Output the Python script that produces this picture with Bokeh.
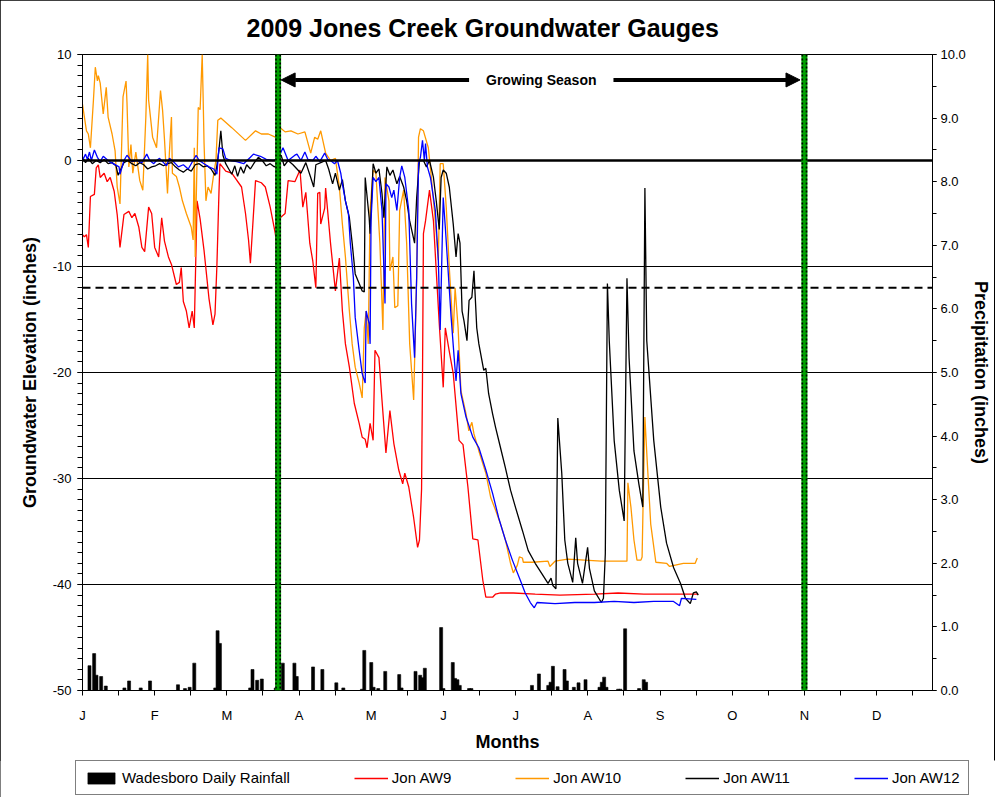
from bokeh.plotting import figure
from bokeh.layouts import column
from bokeh.models import (Range1d, LinearAxis, FixedTicker, PrintfTickFormatter, Span, Label,
                          Arrow, NormalHead, Legend, LegendItem, ColumnDataSource)
from bokeh.embed import file_html
from bokeh.resources import INLINE

FONT = "Liberation Sans"

# ---------------- data ----------------
month_labels = ["J", "F", "M", "A", "M", "J", "J", "A", "S", "O", "N", "D"]
month_ticks = [0, 31, 62, 93, 124, 155, 186, 217, 248, 279, 310, 341]
half_month_ticks = [15.5, 46.5, 77.5, 108.5, 139.5, 170.5, 201.5, 232.5, 263.5, 294.5, 325.5, 356.5]

growing_season = [84, 310]        # day of year, start / end
threshold_level = -12             # inches
arrow_level = 7.6                 # inches (left axis) for the growing-season arrow

# (day of year, groundwater elevation in inches)
aw9 = [(0.0, -7.0), (0.8, -7.2), (1.7, -7.0), (2.5, -8.2), (3.4, -3.4), (5.1, -3.2), (5.9, -0.7),
       (6.8, -0.4), (7.6, -1.6), (9.3, -1.2), (10.6, -2.0), (11.9, -1.6), (13.6, -2.9), (14.9, -5.1),
       (16.1, -8.2), (17.8, -5.1), (19.9, -4.8), (21.2, -5.4), (22.5, -5.0), (24.2, -6.3), (25.5, -8.2),
       (26.7, -8.6), (28.4, -4.4), (29.7, -5.0), (31.0, -8.2), (32.7, -9.1), (34.0, -5.4), (35.2, -7.6),
       (36.9, -9.1), (38.2, -9.8), (40.3, -11.7), (41.6, -11.5), (42.4, -10.1), (43.3, -13.3),
       (44.6, -14.2), (45.8, -15.8), (47.1, -14.2), (48.0, -15.8), (49.2, -3.8), (50.5, -5.5),
       (52.2, -8.5), (54.3, -13.0), (56.0, -15.5), (56.9, -14.5), (57.7, -10.0), (58.6, -3.0),
       (59.0, -0.3), (61.5, -1.0), (64.1, -1.2), (68.3, -2.5), (70.0, -5.0), (71.3, -7.5), (72.1, -9.7),
       (74.3, -1.9), (76.8, -2.1), (78.5, -2.5), (80.6, -4.4), (82.8, -6.9), (83.6, -8.2), (84.9, -5.4),
       (87.0, -5.0), (88.3, -1.9), (91.2, -2.0), (93.4, -0.9), (94.6, -4.4), (95.9, -3.0), (97.6, -7.8),
       (98.9, -9.5), (100.2, -12.0), (101.0, -3.1), (101.9, -3.0), (102.3, -6.0), (104.0, -4.5),
       (104.4, -2.6), (106.5, -7.8), (108.6, -12.3), (110.3, -9.2), (111.6, -14.2), (112.9, -17.3),
       (114.6, -19.5), (116.7, -22.9), (118.8, -24.8), (120.1, -26.1), (121.4, -26.3), (122.2, -27.1),
       (123.5, -24.8), (124.8, -26.4), (125.6, -17.9), (127.3, -18.6), (128.6, -22.6), (130.3, -27.6),
       (132.0, -23.6), (133.7, -26.7), (135.8, -29.2), (137.5, -30.5), (138.4, -29.5), (140.1, -30.8),
       (142.2, -33.7), (143.9, -36.5), (144.7, -35.8), (145.6, -31.0), (146.0, -20.5), (146.4, -6.9),
       (147.3, -5.7), (149.0, -2.8), (150.7, -5.7), (151.9, -10.4), (153.2, -15.4), (154.9, -21.4),
       (155.8, -15.8), (157.5, -18.0), (159.2, -20.1), (161.7, -26.4), (163.4, -26.8), (165.5, -30.8),
       (167.6, -35.7), (169.8, -35.8), (171.9, -39.6), (173.2, -41.2), (176.1, -41.2), (177.4, -40.9),
       (179.5, -40.8), (185.0, -40.8), (194.4, -40.9), (205.0, -41.0), (219.8, -40.9), (230.0, -40.8),
       (241.1, -40.9), (255.0, -40.9), (264.4, -40.9)]

aw10 = [(0.0, 5.3), (1.7, 2.8), (2.5, 2.5), (3.4, 1.2), (4.7, 5.7), (5.5, 8.8), (6.4, 7.5), (6.8, 8.0),
        (7.6, 7.3), (8.9, 4.4), (10.2, 6.9), (11.0, 4.1), (12.7, 2.5), (14.0, 0.9), (14.9, -2.5),
        (16.1, -4.1), (17.4, 6.0), (18.7, 7.5), (19.1, 5.5), (19.9, -0.6), (20.8, 1.5), (21.6, -1.2),
        (22.9, 0.8), (24.6, -1.9), (25.9, -2.8), (27.2, 4.1), (28.0, 10.0), (28.4, 5.7), (30.1, 2.2),
        (31.8, 1.2), (33.5, 6.6), (34.4, 4.7), (35.2, 2.0), (36.5, -3.1), (37.3, 0.7), (38.2, 4.1),
        (38.6, -1.2), (40.3, -1.5), (41.6, -2.5), (42.9, -3.8), (44.6, -5.0), (46.7, -6.3), (47.5, -7.5),
        (48.0, 1.2), (48.4, -9.1), (48.8, -4.0), (49.7, 5.0), (50.5, 4.8), (51.4, 10.0), (51.8, 6.0),
        (52.2, 1.6), (53.0, -3.8), (53.9, -2.5), (55.2, -3.1), (56.4, -1.2), (57.3, 0.0), (58.1, 3.8),
        (59.4, 4.0), (64.1, 3.1), (70.0, 1.9), (74.3, 2.8), (76.8, 2.5), (79.8, 2.5), (82.8, 2.2),
        (84.9, 3.1), (87.0, 2.7), (89.5, 2.8), (92.5, 2.5), (95.5, 2.7), (98.0, 0.7), (99.7, 2.2),
        (101.0, 2.0), (102.3, 2.8), (104.4, 0.7), (106.5, 0.0), (108.6, 0.2), (110.3, -2.5),
        (111.6, -6.0), (112.9, -9.1), (114.6, -14.2), (115.8, -17.3), (117.1, -19.5), (118.8, -21.0),
        (120.1, -22.4), (121.0, -15.8), (121.8, -14.2), (122.7, -17.3), (123.5, -4.7), (124.8, -0.9),
        (126.0, -1.2), (127.7, -7.8), (129.0, -16.0), (129.9, -1.6), (131.6, -3.8), (132.0, -10.4),
        (133.3, -9.1), (134.1, -13.9), (135.4, -13.7), (136.2, -4.7), (137.9, -2.8), (139.2, -7.8),
        (140.5, -17.3), (142.2, -22.6), (143.5, -11.0), (144.3, 2.2), (145.1, 3.0), (146.4, 2.8),
        (148.5, 1.2), (149.8, -1.6), (151.1, -4.7), (152.8, -9.4), (153.6, -0.3), (154.9, -0.3),
        (156.2, -4.4), (157.5, -10.1), (159.2, -16.3), (160.0, -12.0), (161.3, -15.8), (162.5, -21.7),
        (164.7, -23.9), (165.9, -25.5), (167.2, -24.7), (168.1, -25.8), (170.2, -27.4), (173.2, -29.5),
        (175.3, -31.8), (177.4, -33.0), (179.5, -34.3), (181.6, -35.8), (183.8, -38.0), (185.0, -38.9),
        (186.7, -38.2), (187.6, -37.4), (188.9, -37.5), (189.3, -37.9), (193.1, -37.9), (199.9, -37.8),
        (200.7, -38.3), (202.9, -37.8), (208.4, -37.6), (222.8, -37.8), (233.8, -37.8), (234.2, -30.4),
        (235.5, -32.7), (236.8, -35.8), (238.1, -37.7), (239.8, -37.7), (240.3, -37.4), (240.7, -32.7),
        (241.5, -24.2), (242.4, -28.0), (244.0, -34.3), (246.2, -37.9), (250.8, -38.0), (252.1, -38.3),
        (258.0, -38.0), (263.1, -38.0), (264.0, -37.5)]

aw11 = [(0.0, 0.3), (1.3, -0.2), (2.5, 0.2), (4.2, -0.3), (5.9, 0.0), (7.6, -0.2), (9.3, 0.1),
        (11.0, -0.3), (12.7, -0.2), (14.4, -0.5), (15.3, -1.4), (16.1, -1.0), (17.8, -0.2), (19.5, 0.0),
        (21.2, -0.3), (22.9, -0.5), (24.6, -0.2), (26.3, -0.4), (28.0, -0.8), (29.7, -0.6), (31.4, -0.5),
        (33.1, -0.3), (34.8, -0.5), (36.5, -0.3), (38.2, -0.2), (39.9, -0.6), (41.6, -0.9), (43.3, -1.1),
        (45.0, -0.8), (46.7, -1.0), (48.4, -0.4), (50.1, -0.3), (51.8, -0.6), (53.5, -0.5), (55.2, -0.8),
        (56.9, -1.4), (57.7, -0.5), (58.6, 1.0), (59.4, 2.8), (60.3, 0.5), (61.5, -0.3), (62.8, -0.8),
        (64.1, -1.3), (65.4, -0.5), (66.6, -1.5), (67.9, -0.6), (69.2, -1.2), (70.5, -0.4), (72.1, -0.8),
        (73.8, -0.2), (75.5, 0.3), (77.2, 0.0), (78.9, -0.5), (80.6, -0.3), (82.3, -0.6), (84.0, -0.4),
        (85.3, 0.5), (86.6, -0.5), (88.3, 0.0), (90.4, -0.4), (93.8, -1.2), (95.9, -0.2), (98.0, -1.6),
        (99.3, -2.5), (100.2, -0.4), (102.3, -0.2), (104.4, 0.0), (105.7, -0.8), (107.4, -2.2),
        (108.6, -1.2), (110.3, -2.8), (111.6, -1.8), (112.9, -3.8), (114.6, -5.4), (115.8, -7.8),
        (117.1, -10.7), (118.8, -11.6), (120.1, -12.3), (121.0, -12.4), (121.4, -1.6), (123.1, -5.4),
        (123.5, -6.9), (124.8, -0.3), (126.0, -1.2), (127.3, -0.8), (128.6, -3.1), (129.4, -5.4),
        (130.7, -0.6), (132.0, -1.4), (133.3, -0.9), (135.0, -2.2), (136.2, -1.5), (137.9, -2.5),
        (139.2, -3.8), (140.5, -5.7), (142.6, -7.8), (143.5, -3.5), (144.7, 0.0), (146.4, 0.0),
        (147.7, -0.6), (149.0, 0.0), (150.7, -1.6), (151.9, -3.8), (153.2, -6.5), (154.0, -1.6),
        (154.9, -0.9), (156.2, -1.2), (157.5, -2.5), (159.2, -6.0), (160.4, -9.1), (161.3, -6.9),
        (162.1, -7.8), (163.0, -14.2), (163.8, -15.1), (165.1, -17.0), (166.0, -13.2), (167.2, -12.9),
        (168.1, -10.4), (169.3, -15.8), (170.2, -17.3), (172.3, -19.8), (173.2, -19.6), (174.4, -22.0),
        (176.1, -23.9), (177.4, -25.2), (179.5, -27.1), (181.6, -29.0), (183.8, -31.1), (185.9, -32.7),
        (188.9, -34.9), (191.4, -36.8), (194.4, -38.0), (197.3, -39.0), (199.9, -39.9), (201.2, -39.4),
        (202.0, -40.1), (203.3, -40.4), (204.1, -24.3), (205.8, -29.5), (207.1, -35.8), (208.4, -38.0),
        (210.5, -39.8), (211.8, -35.6), (212.6, -38.0), (214.7, -39.9), (216.9, -36.5), (217.7, -38.5),
        (219.8, -40.6), (222.8, -41.7), (223.7, -41.3), (224.5, -37.1), (225.4, -11.6), (226.2, -17.0),
        (228.3, -26.4), (230.5, -31.1), (232.6, -34.0), (233.8, -11.1), (234.7, -18.6), (236.8, -27.4),
        (238.9, -30.5), (240.6, -32.7), (241.5, -2.6), (242.3, -17.0), (245.3, -26.4), (248.3, -32.7),
        (250.8, -36.1), (253.8, -38.4), (256.8, -39.9), (258.9, -41.3), (261.0, -41.8), (262.3, -40.8),
        (263.6, -40.7), (264.4, -41.0)]

aw12 = [(0.0, 0.0), (1.3, 0.6), (2.1, 0.1), (3.0, 0.8), (3.8, 0.0), (5.1, 1.0), (6.4, 0.3), (7.6, -0.1),
        (8.9, 0.4), (11.5, -0.1), (13.2, -0.3), (15.7, -0.6), (16.1, -1.3), (17.8, 0.0), (19.1, 0.5),
        (21.2, -0.1), (23.3, 0.0), (25.5, -0.2), (27.6, 0.6), (28.9, 0.0), (30.6, -0.3), (31.8, 0.0),
        (33.1, 0.2), (34.8, -0.2), (36.1, -0.5), (37.3, 0.2), (39.0, -0.1), (41.2, -0.6), (43.3, -0.4),
        (45.4, -0.8), (47.5, 0.0), (48.8, 0.5), (50.1, 0.0), (52.2, -0.3), (54.3, -0.6), (56.4, -0.8),
        (57.7, -1.3), (58.6, 1.2), (60.3, 1.1), (61.5, 0.2), (63.6, 0.0), (66.2, -0.1), (69.2, -0.3),
        (72.1, 0.3), (73.4, 0.6), (76.4, 0.4), (78.9, 0.1), (81.9, 0.0), (84.0, 0.2), (86.1, 1.2),
        (88.3, 0.0), (91.2, 0.5), (92.1, 0.6), (93.8, 0.0), (95.5, 0.8), (96.8, 0.1), (98.9, 0.0),
        (100.2, 0.4), (101.9, -0.1), (104.0, 0.7), (105.3, 0.1), (106.5, 0.0), (108.2, -0.3), (109.5, 0.0),
        (110.9, -1.2), (111.6, -2.2), (112.9, -3.8), (114.2, -5.0), (115.0, -7.8), (116.3, -11.0),
        (117.1, -14.8), (118.8, -17.9), (120.1, -20.1), (121.4, -21.0), (121.8, -14.2), (123.1, -15.4),
        (123.5, -17.3), (123.9, -5.7), (124.8, -1.6), (126.0, -2.0), (127.3, -1.6), (128.6, -4.7),
        (129.9, -13.5), (130.3, -2.2), (131.6, -2.5), (132.8, -3.5), (133.7, -2.8), (135.0, -4.7),
        (136.2, -1.6), (137.1, -0.5), (138.4, -1.6), (140.1, -4.7), (141.3, -13.5), (142.6, -18.6),
        (143.5, -11.0), (144.3, -0.3), (145.1, 0.3), (146.0, 1.9), (146.8, 0.0), (147.3, 1.6),
        (148.1, -0.6), (149.4, -1.6), (150.7, -3.5), (151.5, -4.7), (152.8, -9.4), (153.6, -16.0),
        (154.9, -3.5), (155.8, -6.3), (157.0, -10.4), (158.3, -14.8), (159.6, -18.6), (160.4, -20.8),
        (161.3, -17.9), (162.5, -22.0), (164.7, -24.2), (167.6, -26.1), (170.2, -27.1), (173.2, -29.2),
        (176.1, -31.4), (178.7, -33.7), (181.6, -35.8), (184.6, -37.7), (188.0, -39.6), (190.1, -40.8),
        (192.3, -41.7), (194.0, -42.2), (195.2, -41.7), (202.9, -41.8), (211.4, -41.7), (219.8, -41.7),
        (228.3, -41.6), (236.8, -41.7), (245.3, -41.6), (253.8, -41.6), (256.4, -42.0), (257.2, -41.3),
        (263.6, -41.4)]

# Wadesboro daily rainfall (day of year, inches)
rain_days = [3, 5, 6, 8, 10, 18, 20, 25, 29, 41, 44, 46, 48, 57, 58, 59, 72, 73, 75, 77, 83, 86, 91, 92,
             99, 103, 109, 112, 120, 121, 124, 125, 127, 130, 136, 137, 143, 145, 146, 147, 154, 155,
             159, 160, 161, 162, 166, 167, 193, 196, 200, 201, 202, 204, 207, 208, 211, 213, 216, 222,
             223, 224, 225, 230, 231, 233, 239, 241, 242]
rain_in = [0.39, 0.58, 0.24, 0.22, 0.07, 0.04, 0.15, 0.04, 0.15, 0.09, 0.03, 0.05, 0.43, 0.04, 0.94,
           0.74, 0.04, 0.33, 0.16, 0.18, 0.04, 0.43, 0.43, 0.22, 0.37, 0.33, 0.12, 0.04, 0.02, 0.63,
           0.44, 0.05, 0.03, 0.30, 0.25, 0.04, 0.30, 0.24, 0.20, 0.35, 0.99, 0.03, 0.44, 0.19, 0.17,
           0.08, 0.03, 0.03, 0.08, 0.26, 0.08, 0.13, 0.38, 0.06, 0.33, 0.15, 0.05, 0.12, 0.17, 0.05,
           0.13, 0.21, 0.05, 0.02, 0.02, 0.97, 0.03, 0.17, 0.13]

rain_label = "Wadesboro Daily Rainfall"
series = [("Jon AW9", aw9, "#FF0000"), ("Jon AW10", aw10, "#FF9900"),
          ("Jon AW11", aw11, "#000000"), ("Jon AW12", aw12, "#0000FF")]

rain_src = ColumnDataSource(dict(day=rain_days, rain=rain_in))
series_src = [(name, ColumnDataSource(dict(day=[d for d, _ in data], level=[v for _, v in data])), color)
              for name, data, color in series]

# ---------------- main figure ----------------
p = figure(width=995, frame_width=850, frame_height=636, output_backend="svg", toolbar_location=None,
           x_range=Range1d(0, 365), y_range=Range1d(-50, 10),
           min_border_left=82, min_border_right=0, min_border_top=54, min_border_bottom=70,
           x_axis_label="Months", y_axis_label="Groundwater Elevation (inches)",
           background_fill_color="white", border_fill_color="white")
p.frame_align = False
p.extra_y_ranges = {"precip": Range1d(0, 10)}
p.outline_line_color = "black"
p.outline_line_width = 1

p.title.text = "2009 Jones Creek Groundwater Gauges"
p.title.align = "left"
p.title.offset = 164
p.title.vertical_align = "top"
p.title.standoff = 22
p.title.text_font = FONT
p.title.text_font_size = "25px"
p.title.text_font_style = "bold"
p.title.text_color = "black"

# x axis
xa = p.xaxis[0]
xa.ticker = FixedTicker(ticks=month_ticks, minor_ticks=half_month_ticks)
xa.major_label_overrides = {t: lab for t, lab in zip(month_ticks, month_labels)}
xa.major_tick_in = 0
xa.major_tick_out = 5
xa.minor_tick_in = 0
xa.minor_tick_out = 5
xa.major_label_standoff = 12
xa.axis_label_standoff = 6

# left axis
left_ticks = [-50, -40, -30, -20, -10, 0, 10]
ya = p.yaxis[0]
ya.ticker = FixedTicker(ticks=left_ticks, minor_ticks=list(range(-50, 11)))
ya.major_label_overrides = {t: str(t) for t in left_ticks}
ya.major_tick_in = 0
ya.major_tick_out = 5
ya.minor_tick_in = 0
ya.minor_tick_out = 5
ya.major_label_standoff = 6
ya.axis_label_standoff = 10

# right axis
ra = LinearAxis(y_range_name="precip", axis_label="Precipitation (inches)",
                ticker=FixedTicker(ticks=list(range(0, 11)), minor_ticks=[i * 0.5 for i in range(21)]),
                formatter=PrintfTickFormatter(format="%.1f"))
ra.major_tick_in = 0
ra.major_tick_out = 4
ra.minor_tick_in = 0
ra.minor_tick_out = 4
ra.major_label_standoff = 4
ra.axis_label_standoff = 2
p.add_layout(ra, "right")

for ax in [xa, ya, ra]:
    ax.axis_line_color = "black"
    ax.major_tick_line_color = "black"
    ax.minor_tick_line_color = "black"
    ax.major_label_text_font = FONT
    ax.major_label_text_font_size = "13px"
    ax.major_label_text_color = "black"
    ax.axis_label_text_font = FONT
    ax.axis_label_text_font_size = "18px"
    ax.axis_label_text_font_style = "bold"
    ax.axis_label_text_color = "black"

p.xgrid.visible = False
p.ygrid.grid_line_color = "black"
p.ygrid.grid_line_width = 1
p.ygrid.grid_line_alpha = 1

# rainfall bars
bar_style = dict(fill_color="black", line_color="black", line_width=0.6)
p.vbar(x="day", top="rain", bottom=0, width=1.3, source=rain_src, y_range_name="precip", **bar_style)

for name, src, color in series_src:
    p.line(x="day", y="level", source=src, line_color=color, line_width=1.3)

# reference lines
p.add_layout(Span(location=0, dimension="width", line_color="black", line_width=2.5))
p.add_layout(Span(location=threshold_level, dimension="width", line_color="black",
                  line_width=2, line_dash="8 5"))
for d in growing_season:
    p.add_layout(Span(location=d, dimension="height", line_color="#00A000", line_width=6))
    for off in (-0.9, 0.9):
        p.add_layout(Span(location=d + off, dimension="height", line_color="black",
                          line_width=1.6, line_dash="2 2"))

# growing season arrows + label
mid = (growing_season[0] + growing_season[1]) / 2
p.add_layout(Arrow(x_start=mid - 31, y_start=arrow_level, x_end=growing_season[0] + 1.3, y_end=arrow_level,
                   line_width=4, line_color="black",
                   end=NormalHead(size=14, fill_color="black", line_color="black")))
p.add_layout(Arrow(x_start=mid + 31, y_start=arrow_level, x_end=growing_season[1] - 1.9, y_end=arrow_level,
                   line_width=4, line_color="black",
                   end=NormalHead(size=14, fill_color="black", line_color="black")))
p.add_layout(Label(x=mid, y=arrow_level, text="Growing Season", text_align="center",
                   text_baseline="middle", text_font=FONT, text_font_size="14px",
                   text_font_style="bold", text_color="black"))

# ---------------- legend strip (same sources, view range kept off the data) ----------------
lg = figure(width=995, height=37, output_backend="svg", toolbar_location=None,
            x_range=Range1d(-1000, -999), y_range=Range1d(-1000, -999),
            x_axis_location=None, y_axis_location=None,
            min_border_left=0, min_border_right=0, min_border_top=0, min_border_bottom=0,
            background_fill_color="white", border_fill_color="white")
lg.frame_align = False
lg.grid.visible = False
lg.outline_line_color = None
items = [LegendItem(label=rain_label,
                    renderers=[lg.vbar(x="day", top="rain", bottom=0, width=1.3, source=rain_src, **bar_style)])]
for name, src, color in series_src:
    items.append(LegendItem(label=name, renderers=[lg.line(x="day", y="level", source=src,
                                                           line_color=color, line_width=1.3)]))

legend = Legend(items=items, orientation="horizontal", location=(75, 2),
                border_line_color="black", border_line_width=1, background_fill_color="white",
                padding=8, spacing=64, glyph_width=34, glyph_height=14, label_standoff=4,
                label_height=16, margin=0,
                label_text_font=FONT, label_text_font_size="15px", label_text_color="black")
lg.add_layout(legend)

layout = column(p, lg, spacing=0)
layout.styles = {"outline": "1px solid black", "outline-offset": "-1px"}

open("out.html", "w").write(file_html(layout, INLINE))
